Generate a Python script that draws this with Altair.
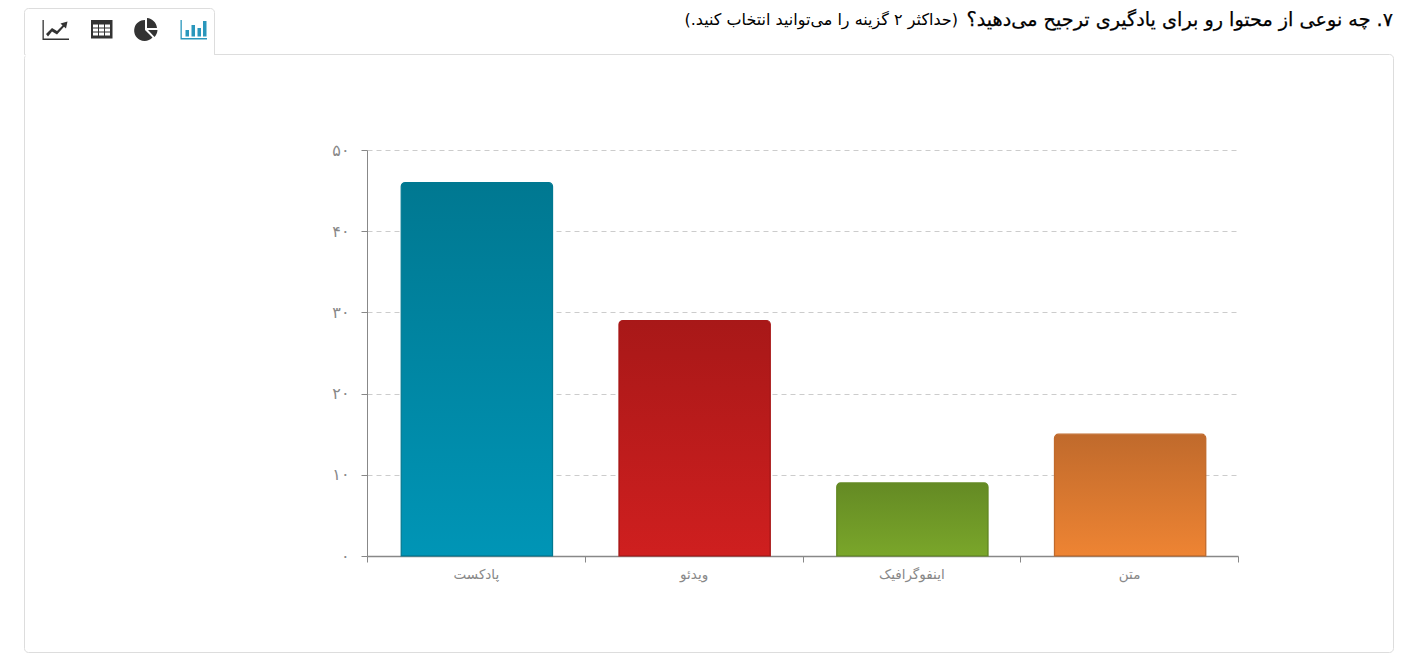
import altair as alt
import pandas as pd

categories = ["پادکست", "ویدئو", "اینفوگرافیک", "متن"]
values = [46, 29, 9, 15]
top_colors = ["#007891", "#a81818", "#648a24", "#c06a2c"]
bottom_colors = ["#0095b6", "#cf1f1f", "#7aa62a", "#ee8433"]
y_ticks = [0, 10, 20, 30, 40, 50]
y_tick_labels = ["۰", "۱۰", "۲۰", "۳۰", "۴۰", "۵۰"]
title_main = "\u200f۷. چه نوعی از محتوا رو برای یادگیری ترجیح می‌دهید؟\u200f"
title_note = "\u200f(حداکثر ۲ گزینه را می‌توانید انتخاب کنید.)\u200f"

FONT = "DejaVu Sans"
OX, OY = 367, 150  # page position of the plot area
W, H = 871, 406
one = alt.Data(values=[{}])


def px(v):
    return alt.value(v - OX)


def py(v):
    return alt.value(v - OY)


def rects(*boxes):
    return " ".join(f"M{a},{b} H{c} V{d} H{a} Z" for a, b, c, d in boxes)


def holes(*boxes):
    return " ".join(f"M{a},{b} V{d} H{c} V{b} H{a} Z" for a, b, c, d in boxes)


def icon(path, color):
    return alt.Chart(one).mark_point(
        shape=path, filled=True, size=4, color=color, opacity=1, strokeWidth=0
    ).encode(x=alt.value(-OX), y=alt.value(-OY))


x_enc = alt.X(
    "cat:N",
    sort=categories,
    scale=alt.Scale(domain=categories, paddingInner=0, paddingOuter=0),
    axis=alt.Axis(
        title=None, labelAngle=0, labelFont=FONT, labelFontSize=13.5, labelColor="#888888",
        labelPadding=5, tickBand="extent", tickSize=6, tickColor="#888888",
        domainColor="#888888", domainWidth=1.5, grid=False,
    ),
)
label_map = "{" + ",".join(f"'{t}':'{l}'" for t, l in zip(y_ticks, y_tick_labels)) + "}"
y_enc = alt.Y(
    "val:Q",
    scale=alt.Scale(domain=[0, 50], nice=False),
    axis=alt.Axis(
        title=None, values=y_ticks, labelExpr=label_map + "[datum.value]",
        labelFont=FONT, labelFontSize=16, labelColor="#888888", labelPadding=12,
        tickSize=6, tickColor="#888888", domainColor="#888888",
        grid=True, gridColor="#cccccc", gridDash=[5, 4],
    ),
)

bars = []
for c, v, t, b in zip(categories, values, top_colors, bottom_colors):
    df = pd.DataFrame({"cat": [c], "val": [v]})
    bars.append(
        alt.Chart(df).mark_bar(
            color=alt.Gradient(
                gradient="linear", x1=0, y1=0, x2=0, y2=1,
                stops=[alt.GradientStop(offset=0, color=t), alt.GradientStop(offset=1, color=b)],
            ),
            stroke=t, strokeWidth=1.2,
            width=alt.RelativeBandSize(band=0.695),
            xOffset=1,
            cornerRadiusTopLeft=4, cornerRadiusTopRight=4,
        ).encode(x=x_enc, y=y_enc)
    )

panel = alt.Chart(one).mark_rect(
    fillOpacity=0, stroke="#dddddd", strokeWidth=1, cornerRadius=4
).encode(x=px(24.5), x2=px(1393.5), y=py(54.5), y2=py(652.5))
tab = alt.Chart(one).mark_rect(
    fill="#ffffff", stroke="#dddddd", strokeWidth=1,
    cornerRadiusTopLeft=4, cornerRadiusTopRight=4,
).encode(x=px(24.5), x2=px(214.5), y=py(8.5), y2=py(54.5))
tab_cover = alt.Chart(one).mark_rect(fill="#ffffff").encode(
    x=px(25.5), x2=px(214), y=py(50), y2=py(66)
)

t_main = alt.Chart(one).mark_text(
    text=title_main, font=FONT, fontSize=19.2, color="#000000", stroke="#000000", strokeWidth=0.25,
    align="right", baseline="middle"
).encode(x=px(1393), y=py(20))
t_note = alt.Chart(one).mark_text(
    text=title_note, font=FONT, fontSize=16, color="#000000", align="right", baseline="middle"
).encode(x=px(958), y=py(20))

BLUE, DARK = "#2a97bc", "#333333"
bar_icon = icon(
    rects((180.5, 20, 181.8, 39), (180.5, 38, 207, 39.4), (185.5, 30, 189, 36.5),
          (191.5, 25, 195, 36.5), (197.5, 28, 201, 36.5), (203, 21, 206.5, 36.5)),
    BLUE,
)
pie_icon = icon(
    "M145,20 A10.5,10.5 0 1 0 152.5,37.5 L145,30 Z "
    "M147,18 A11,11 0 0 1 157,28 L147,28 Z "
    "M148,30 L157.5,30 A11,11 0 0 1 154.5,37 Z",
    DARK,
)
table_icon = icon(
    rects((91, 20, 112.5, 38.5))
    + " "
    + holes(*[(a, b, a + 5, b + 3) for b in (24.5, 28.5, 32.5) for a in (93, 99, 105)]),
    DARK,
)
line_icon = icon(
    rects((42.5, 20, 43.8, 40), (42.5, 38.6, 69, 40))
    + " M46,34 L52,28 L57,31 L62.5,25.5 L60.5,23.5 L67.5,21.5 L66,28.5 L64,26.8 L57,34.5 L52,31.5 L48,36.5 Z",
    DARK,
)

chart = alt.layer(
    *bars, panel, tab, tab_cover, t_main, t_note, bar_icon, pie_icon, table_icon, line_icon
).properties(
    width=W, height=H,
    autosize=alt.AutoSizeParams(type="none"),
    padding={"left": OX - 8, "top": OY - 8, "right": 1401 - (OX - 8) - W, "bottom": 646 - (OY - 8) - H},
    background="#ffffff",
).configure_view(stroke=None)

chart.save("out.html", embed_options={"renderer": "svg", "actions": False})
